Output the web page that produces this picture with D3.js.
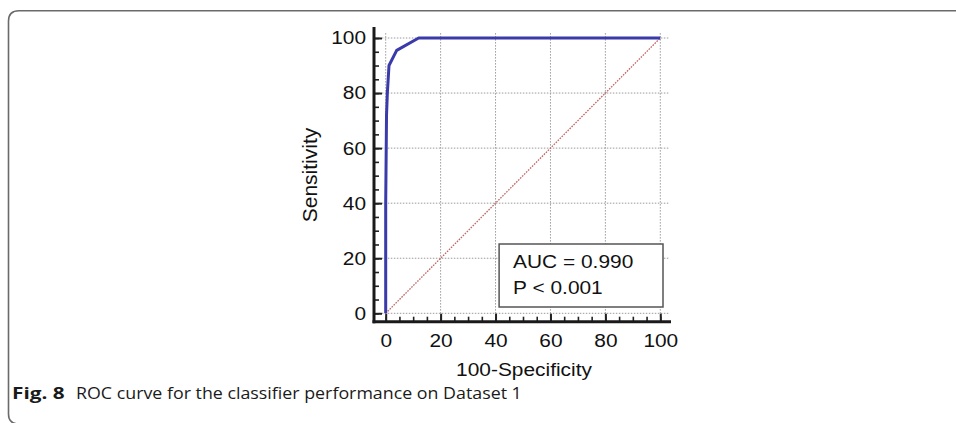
<!DOCTYPE html>
<html>
<head>
<meta charset="utf-8">
<script src="https://cdn.jsdelivr.net/npm/d3@7"></script>
<style>
  body { margin: 0; background: #fff; }
  svg { display: block; }
  .tick text { font-family: "Liberation Sans", Arial, sans-serif; font-size: 18.5px; fill: #111; }
</style>
</head>
<body>
<div id="chart"></div>
<script>
// ROC curve points (100-Specificity, Sensitivity)
const fpr = [0, 0, 0.3, 0.6, 1.2, 4, 12, 100];
const tpr = [0, 40, 72, 80, 90, 95.5, 100, 100];
const majorTicks = [0, 20, 40, 60, 80, 100];
const minorTicks = d3.range(0, 101, 5);
const legendLines = ["AUC = 0.990", "P < 0.001"];
const xTitle = "100-Specificity";
const yTitle = "Sensitivity";

const W = 956, H = 423;
const sx = 1.13; // source figure is a bit wider than tall

const svg = d3.select("#chart").append("svg")
  .attr("width", W).attr("height", H);

// figure frame (rounded top-left corner, left side runs off the bottom)
svg.append("path")
  .attr("d", "M956,10.7 L19,10.7 Q8.5,10.7 8.5,21 L8.5,414 Q8.5,424 19,424")
  .attr("fill", "none").attr("stroke", "#6a6a6a").attr("stroke-width", 1.6);

const x = d3.scaleLinear().domain([0, 100]).range([385.7, 660.3]);
const y = d3.scaleLinear().domain([0, 100]).range([313.3, 38]);

// grid
const grid = svg.append("g").attr("stroke", "#9a9a9a").attr("stroke-width", 1)
  .attr("stroke-dasharray", "1.5,1.5");
grid.selectAll(".h").data(majorTicks).enter().append("line")
  .attr("x1", x(-2.5)).attr("x2", x(103))
  .attr("y1", d => y(d)).attr("y2", d => y(d));
grid.selectAll(".v").data(majorTicks).enter().append("line")
  .attr("y1", y(-1.2)).attr("y2", y(102.2))
  .attr("x1", d => x(d)).attr("x2", d => x(d));

// axes
const axisX = 374, axisY = 321.7;

const yAxis = svg.append("g").attr("transform", `translate(${axisX},0)`)
  .call(d3.axisLeft(y).tickValues(majorTicks).tickSize(-8).tickPadding(7).tickFormat(d3.format("d")));
yAxis.select(".domain").remove();
yAxis.selectAll(".tick line").attr("stroke", "#222").attr("stroke-width", 2);
yAxis.selectAll(".tick text").attr("transform", `scale(${sx},1)`);
svg.append("g").attr("transform", `translate(${axisX},0)`)
  .call(d3.axisLeft(y).tickValues(minorTicks).tickSize(-5).tickFormat(""))
  .call(g => g.select(".domain").remove())
  .selectAll(".tick line").attr("stroke", "#222").attr("stroke-width", 1.6);

const xAxis = svg.append("g").attr("transform", `translate(0,${axisY})`)
  .call(d3.axisBottom(x).tickValues(majorTicks).tickSize(-8).tickPadding(12).tickFormat(d3.format("d")));
xAxis.select(".domain").remove();
xAxis.selectAll(".tick line").attr("stroke", "#222").attr("stroke-width", 2);
xAxis.selectAll(".tick text").attr("transform", `scale(${sx},1)`);
svg.append("g").attr("transform", `translate(0,${axisY})`)
  .call(d3.axisBottom(x).tickValues(minorTicks).tickSize(-5).tickFormat(""))
  .call(g => g.select(".domain").remove())
  .selectAll(".tick line").attr("stroke", "#222").attr("stroke-width", 1.6);

// axis lines
svg.append("line").attr("x1", axisX).attr("x2", axisX).attr("y1", 27).attr("y2", axisY + 1.5)
  .attr("stroke", "#1a1a1a").attr("stroke-width", 3);
svg.append("line").attr("x1", axisX - 1.5).attr("x2", 671).attr("y1", axisY).attr("y2", axisY)
  .attr("stroke", "#1a1a1a").attr("stroke-width", 3);

// diagonal reference line
svg.append("line")
  .attr("x1", x(0)).attr("y1", y(0)).attr("x2", x(100)).attr("y2", y(100))
  .attr("stroke", "#c06464").attr("stroke-width", 1.3).attr("stroke-dasharray", "1.6,1.2");

// ROC curve
const pts = fpr.map((d, i) => [d, tpr[i]]);
svg.append("path").datum(pts)
  .attr("d", d3.line().x(d => x(d[0])).y(d => y(d[1])))
  .attr("fill", "none").attr("stroke", "#3a3aaa").attr("stroke-width", 3)
  .attr("stroke-linejoin", "round");

// legend box
const lg = svg.append("g");
lg.append("rect")
  .attr("x", x(41.3)).attr("y", 244)
  .attr("width", x(100) + 2.7 - x(41.3)).attr("height", 63)
  .attr("fill", "#fff").attr("stroke", "#555").attr("stroke-width", 1.5);
lg.selectAll("text").data(legendLines).enter().append("text")
  .attr("transform", (d, i) => `translate(${x(41.3) + 14},${268 + i * 25.5}) scale(${sx},1)`)
  .attr("font-family", "Liberation Sans, Arial, sans-serif").attr("font-size", 18.5)
  .attr("fill", "#111").text(d => d);

// axis titles
svg.append("text")
  .attr("transform", `translate(${(x(0) + x(100)) / 2 + 1},376) scale(${sx},1)`)
  .attr("text-anchor", "middle")
  .attr("font-family", "Liberation Sans, Arial, sans-serif").attr("font-size", 18.5)
  .attr("fill", "#111").text(xTitle);
svg.append("text")
  .attr("transform", `translate(317,175) rotate(-90)`)
  .attr("text-anchor", "middle")
  .attr("font-family", "Liberation Sans, Arial, sans-serif").attr("font-size", 21)
  .attr("fill", "#111").text(yTitle);

// caption
svg.append("text").attr("transform", `translate(12,399) scale(1.3,1)`)
  .attr("font-family", "Open Sans, Noto Sans, sans-serif").attr("font-size", 16)
  .attr("font-weight", "bold").attr("fill", "#1a1a1a").text("Fig. 8");
svg.append("text").attr("transform", `translate(76,399) scale(1.15,1)`)
  .attr("font-family", "Open Sans, Noto Sans, sans-serif").attr("font-size", 15.5)
  .attr("fill", "#1a1a1a").text("ROC curve for the classifier performance on Dataset 1");
</script>
</body>
</html>
